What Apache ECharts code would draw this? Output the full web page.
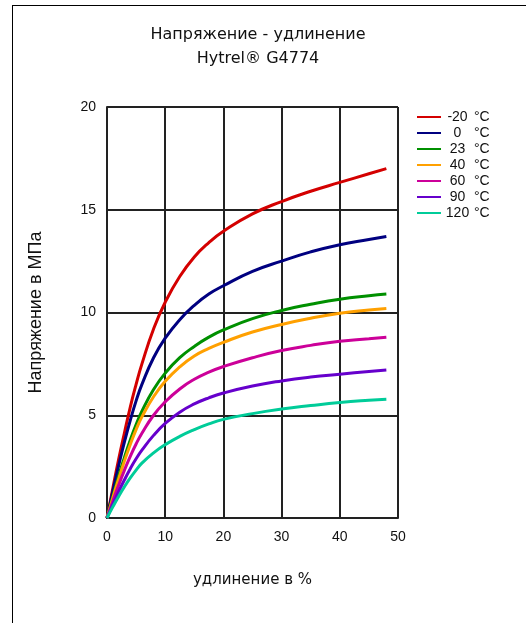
<!DOCTYPE html>
<html><head><meta charset="utf-8">
<script src="https://cdn.jsdelivr.net/npm/echarts@6/dist/echarts.min.js"></script>
<style>html,body{margin:0;padding:0;background:#fff}#c{width:526px;height:623px}</style>
</head><body><div id="c"></div>
<script>
const strain = [0, 1, 2, 3, 4, 5, 6, 8, 10, 12.5, 15, 17.5, 20, 25, 30, 35, 40, 45, 48];
const sM20 = [0, 1.45, 2.85, 4.15, 5.4, 6.5, 7.5, 9.2, 10.5, 11.75, 12.7, 13.4, 13.95, 14.8, 15.4, 15.9, 16.33, 16.75, 17.0];
const s0   = [0, 1.3, 2.55, 3.7, 4.75, 5.7, 6.5, 7.8, 8.75, 9.65, 10.35, 10.9, 11.3, 12.0, 12.5, 12.95, 13.3, 13.55, 13.7];
const s23  = [0, 1.05, 2.05, 2.95, 3.8, 4.55, 5.2, 6.25, 7.05, 7.8, 8.35, 8.8, 9.15, 9.7, 10.1, 10.4, 10.65, 10.82, 10.9];
const s40  = [0, 0.98, 1.9, 2.78, 3.58, 4.3, 4.92, 5.9, 6.65, 7.35, 7.88, 8.25, 8.55, 9.05, 9.42, 9.72, 9.96, 10.12, 10.2];
const s60  = [0, 0.82, 1.6, 2.33, 3.0, 3.6, 4.12, 5.0, 5.65, 6.28, 6.75, 7.1, 7.37, 7.8, 8.15, 8.4, 8.6, 8.72, 8.8];
const s90  = [0, 0.66, 1.28, 1.86, 2.4, 2.88, 3.3, 4.02, 4.6, 5.15, 5.55, 5.85, 6.08, 6.42, 6.67, 6.86, 7.0, 7.13, 7.2];
const s120 = [0, 0.54, 1.05, 1.52, 1.95, 2.33, 2.67, 3.17, 3.57, 3.97, 4.3, 4.58, 4.8, 5.08, 5.3, 5.47, 5.62, 5.73, 5.78];
const temps = ['-20', '0', '23', '40', '60', '90', '120'];
const seriesValues = [sM20, s0, s23, s40, s60, s90, s120];
const colors = ['#d40000', '#000080', '#009000', '#ffa000', '#cc0099', '#6600cc', '#00cc99'];
const xTicks = [0, 10, 20, 30, 40, 50];
const yTicks = [0, 5, 10, 15, 20];

const chart = echarts.init(document.getElementById('c'), null, {renderer: 'canvas'});
const series = temps.map((t, i) => ({
  name: t,
  type: 'line',
  smooth: 0.5,
  symbol: 'none',
  data: strain.map((x, j) => [x, seriesValues[i][j]]),
  lineStyle: {color: colors[i], width: 3},
  itemStyle: {color: colors[i]}
}));
const gridLine = {show: true, lineStyle: {color: '#222', width: 2}};
chart.setOption({
  animation: false,
  backgroundColor: '#fff',
  title: {
    text: 'Напряжение - удлинение\nHytrel® G4774',
    left: 253, top: 18, textAlign: 'center',
    textStyle: {fontFamily: 'DejaVu Sans', fontSize: 16, fontWeight: 'normal', color: '#111', lineHeight: 24}
  },
  legend: {
    orient: 'vertical', left: 412, top: 104,
    icon: 'rect', itemWidth: 24, itemHeight: 2, itemGap: 0,
    data: temps,
    formatter: n => '{n|' + n + '}{u|°C}',
    textStyle: {
      fontFamily: 'Liberation Sans', fontSize: 14, color: '#111', lineHeight: 16,
      rich: {
        n: {width: 23, align: 'right', fontSize: 14, fontFamily: 'Liberation Sans', color: '#111'},
        u: {padding: [0, 0, 0, 5], fontSize: 14, fontFamily: 'Liberation Sans', color: '#111'}
      }
    }
  },
  grid: {left: 107, right: 128, top: 107, bottom: 105},
  xAxis: {
    type: 'value', min: 0, max: 50, interval: 10,
    name: 'удлинение в %', nameLocation: 'middle', nameGap: 55,
    nameTextStyle: {fontFamily: 'DejaVu Sans', fontSize: 15, color: '#111'},
    axisLine: {show: true, lineStyle: {color: '#222', width: 2}},
    axisTick: {show: false},
    axisLabel: {margin: 12, fontFamily: 'Liberation Sans', fontSize: 14, color: '#111',
      formatter: v => xTicks.includes(v) ? String(v) : ''},
    splitLine: gridLine
  },
  yAxis: {
    type: 'value', min: 0, max: 20, interval: 5,
    name: 'Напряжение в МПа', nameLocation: 'middle', nameGap: 62,
    nameTextStyle: {fontFamily: 'Liberation Sans', fontSize: 18, color: '#111'},
    axisLine: {show: true, lineStyle: {color: '#222', width: 2}},
    axisTick: {show: false},
    axisLabel: {margin: 11, fontFamily: 'Liberation Sans', fontSize: 14, color: '#111',
      formatter: v => yTicks.includes(v) ? String(v) : ''},
    splitLine: gridLine
  },
  graphic: [
    {type: 'line', shape: {x1: 12.5, y1: 5, x2: 12.5, y2: 623}, style: {stroke: '#000', lineWidth: 1}},
    {type: 'line', shape: {x1: 12, y1: 5.5, x2: 526, y2: 5.5}, style: {stroke: '#000', lineWidth: 1}}
  ],
  series: series
});
</script></body></html>
